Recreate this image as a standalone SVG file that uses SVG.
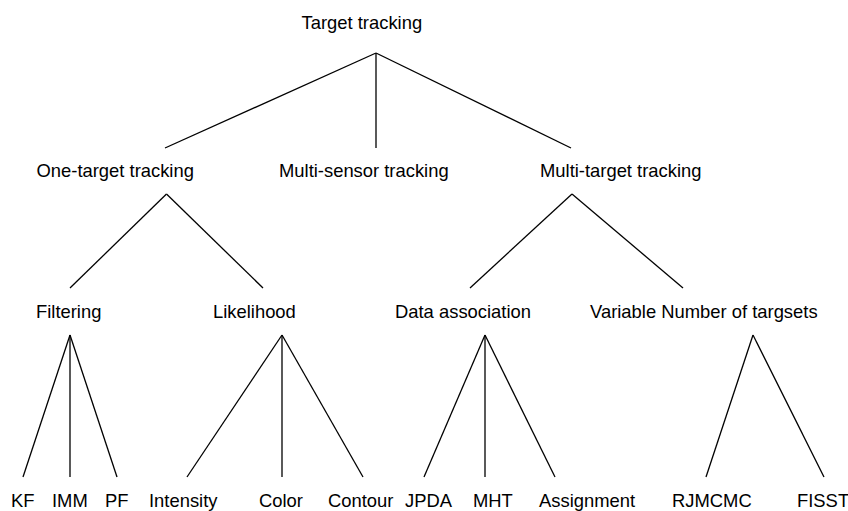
<svg xmlns="http://www.w3.org/2000/svg" width="848" height="511" viewBox="0 0 848 511">
<style>
text{font-family:"Liberation Sans",Arial,sans-serif;font-size:18.4px;fill:#000}
.e line{stroke:#000;stroke-width:1.3;fill:none}
</style>
<rect width="848" height="511" fill="#fff"/>
<g class="e" id="connectors">
<line x1="376" y1="53" x2="165" y2="148"/>
<line x1="376" y1="53" x2="376" y2="148"/>
<line x1="376" y1="53" x2="571" y2="148"/>
<line x1="166.5" y1="194" x2="70" y2="288"/>
<line x1="166.5" y1="194" x2="263" y2="288"/>
<line x1="572" y1="194" x2="470" y2="288"/>
<line x1="572" y1="194" x2="683" y2="288"/>
<line x1="70" y1="335" x2="23" y2="477"/>
<line x1="70" y1="335" x2="70" y2="477"/>
<line x1="70" y1="335" x2="117" y2="477"/>
<line x1="282" y1="335" x2="187" y2="477"/>
<line x1="282" y1="335" x2="282" y2="477"/>
<line x1="282" y1="335" x2="363" y2="477"/>
<line x1="485" y1="335" x2="424" y2="477"/>
<line x1="485" y1="335" x2="485" y2="477"/>
<line x1="485" y1="335" x2="555" y2="477"/>
<line x1="753" y1="335" x2="706" y2="477"/>
<line x1="753" y1="335" x2="824" y2="477"/>
</g>
<g id="n-root"><text x="301.5" y="29.3">Target tracking</text></g>
<g id="n-one"><text x="36.5" y="176.7">One-target tracking</text></g>
<g id="n-multisensor"><text x="279" y="176.7">Multi-sensor tracking</text></g>
<g id="n-multitarget"><text x="540" y="176.7">Multi-target tracking</text></g>
<g id="n-filtering"><text x="36" y="318">Filtering</text></g>
<g id="n-likelihood"><text x="213" y="318">Likelihood</text></g>
<g id="n-data"><text x="395" y="318">Data association</text></g>
<g id="n-variable"><text x="590" y="318">Variable Number of targsets</text></g>
<g id="n-kf"><text x="11" y="506.5">KF</text></g>
<g id="n-imm"><text x="52" y="506.5">IMM</text></g>
<g id="n-pf"><text x="105" y="506.5">PF</text></g>
<g id="n-intensity"><text x="149" y="506.5">Intensity</text></g>
<g id="n-color"><text x="259" y="506.5">Color</text></g>
<g id="n-contour"><text x="328" y="506.5">Contour</text></g>
<g id="n-jpda"><text x="405" y="506.5">JPDA</text></g>
<g id="n-mht"><text x="473" y="506.5">MHT</text></g>
<g id="n-assignment"><text x="539" y="506.5">Assignment</text></g>
<g id="n-rjmcmc"><text x="672" y="506.5">RJMCMC</text></g>
<g id="n-fisst"><text x="797" y="506.5">FISST</text></g>
</svg>
